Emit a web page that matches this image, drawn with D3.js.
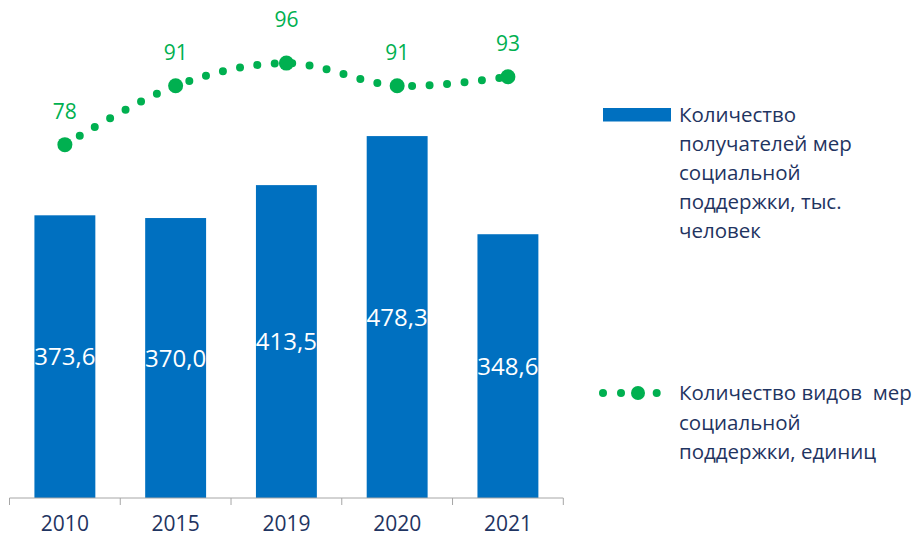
<!DOCTYPE html>
<html>
<head>
<meta charset="utf-8">
<script src="https://cdn.jsdelivr.net/npm/d3@7"></script>
<style>
  body { margin: 0; background: #fff; }
  svg { display: block; font-family: "Open Sans", sans-serif; }
</style>
</head>
<body>
<svg id="chart" width="918" height="537"></svg>
<script>
// data
var years = ["2010", "2015", "2019", "2020", "2021"];
var recipients = [373.6, 370.0, 413.5, 478.3, 348.6];   // тыс. человек
var measureTypes = [78, 91, 96, 91, 93];                 // единиц
var barLegend = ["Количество", "получателей мер", "социальной", "поддержки, тыс.", "человек"];
var lineLegend = ["Количество видов  мер", "социальной", "поддержки, единиц"];

var blue = "#0070C0", green = "#00B050", navy = "#1F3461";

var svg = d3.select("#chart");

var axisY = 498;

var x = d3.scaleBand()
  .domain(years)
  .range([9.5, 563.3])
  .paddingInner(0.45)
  .paddingOuter(0.225);

var y = d3.scaleLinear().domain([0, 600]).range([axisY, 44]);
var y2 = d3.scaleLinear().domain([0, 100]).range([axisY, 45]);

var fmt = function(v){ return d3.format(".1f")(v).replace(".", ","); };

// bars
svg.append("g")
  .selectAll("rect")
  .data(recipients)
  .enter().append("rect")
    .attr("x", function(d, i){ return x(years[i]); })
    .attr("y", function(d){ return y(d); })
    .attr("width", x.bandwidth())
    .attr("height", function(d){ return axisY - y(d); })
    .attr("fill", blue);

// bar labels
svg.append("g")
  .selectAll("text")
  .data(recipients)
  .enter().append("text")
    .attr("x", function(d, i){ return x(years[i]) + x.bandwidth() / 2; })
    .attr("y", function(d){ return (y(d) + axisY) / 2; })
    .attr("dy", "0.36em")
    .attr("text-anchor", "middle")
    .attr("fill", "#fff")
    .style("font-size", "24px")
    .text(fmt);

// x axis with ticks between categories
var axisG = svg.append("g").attr("transform", "translate(0," + axisY + ")");
axisG.append("line")
  .attr("x1", x.range()[0]).attr("x2", x.range()[1])
  .attr("stroke", "#a6a6a6").attr("stroke-width", 1);
var bounds = years.map(function(d){ return x(d) - x.step() * x.paddingInner() / 2; });
bounds.push(x.range()[1]);
axisG.selectAll(".tk")
  .data(bounds)
  .enter().append("line")
    .attr("class", "tk")
    .attr("x1", function(d){ return d; }).attr("x2", function(d){ return d; })
    .attr("y1", 0).attr("y2", 7)
    .attr("stroke", "#a6a6a6");
axisG.selectAll(".lbl")
  .data(years)
  .enter().append("text")
    .attr("class", "lbl")
    .attr("x", function(d){ return x(d) + x.bandwidth() / 2; })
    .attr("y", 33)
    .attr("text-anchor", "middle")
    .attr("fill", navy)
    .style("font-size", "21px")
    .text(function(d){ return d; });

// dotted smooth line
var line = d3.line()
  .x(function(d, i){ return x(years[i]) + x.bandwidth() / 2; })
  .y(function(d){ return y2(d); })
  .curve(d3.curveCatmullRom.alpha(0));

svg.append("path")
  .datum(measureTypes)
  .attr("d", line)
  .attr("fill", "none")
  .attr("stroke", green)
  .attr("stroke-width", 8)
  .attr("stroke-linecap", "round")
  .attr("stroke-dasharray", "0 17.5");

svg.append("g")
  .selectAll("circle")
  .data(measureTypes)
  .enter().append("circle")
    .attr("cx", function(d, i){ return x(years[i]) + x.bandwidth() / 2; })
    .attr("cy", function(d){ return y2(d); })
    .attr("r", 7.5)
    .attr("fill", green);

// line labels (2019 label sits a bit higher in the original)
var labelLift = [26, 26, 36, 26, 26];
svg.append("g")
  .selectAll("text")
  .data(measureTypes)
  .enter().append("text")
    .attr("x", function(d, i){ return x(years[i]) + x.bandwidth() / 2; })
    .attr("y", function(d, i){ return y2(d) - labelLift[i]; })
    .attr("text-anchor", "middle")
    .attr("fill", green)
    .style("font-size", "21px")
    .text(function(d){ return d; });

// legend
var lg = svg.append("g");
lg.append("rect")
  .attr("x", 603).attr("y", 108)
  .attr("width", 68).attr("height", 13.5)
  .attr("fill", blue);

lg.append("text")
  .attr("fill", navy)
  .style("font-size", "20.5px")
  .selectAll("tspan")
  .data(barLegend)
  .enter().append("tspan")
    .attr("x", 679)
    .attr("y", function(d, i){ return 122 + i * 29; })
    .text(function(d){ return d; });

[603, 621, 656.7].forEach(function(cx){
  lg.append("circle").attr("cx", cx).attr("cy", 393).attr("r", 4).attr("fill", green);
});
lg.append("circle").attr("cx", 638).attr("cy", 393).attr("r", 7).attr("fill", green);

lg.append("text")
  .attr("fill", navy)
  .style("font-size", "20.5px")
  .style("white-space", "pre")
  .attr("xml:space", "preserve")
  .selectAll("tspan")
  .data(lineLegend)
  .enter().append("tspan")
    .attr("x", 679)
    .attr("y", function(d, i){ return 400 + i * 29.5; })
    .text(function(d){ return d; });
</script>
</body>
</html>
